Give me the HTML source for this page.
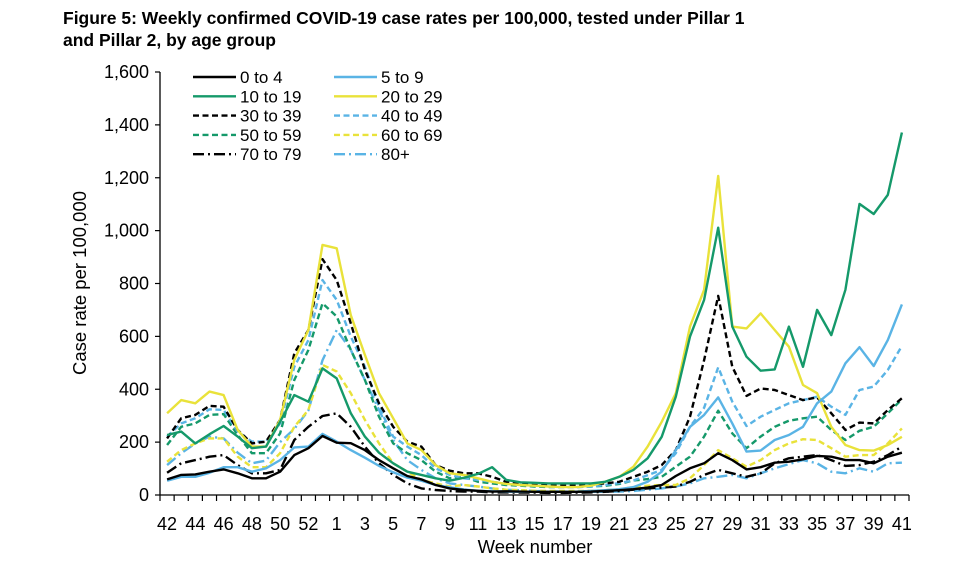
<!DOCTYPE html>
<html><head><meta charset="utf-8"><style>
body{margin:0;background:#fff;width:965px;height:559px;overflow:hidden;font-family:"Liberation Sans",Arial,sans-serif}
</style></head><body>
<svg id="c" width="965" height="559" font-family="Liberation Sans, Arial, sans-serif">
<text x="63" y="24" font-size="17.5" font-weight="bold">Figure 5: Weekly confirmed COVID-19 case rates per 100,000, tested under Pillar 1</text>
<text x="63" y="46" font-size="17.5" font-weight="bold">and Pillar 2, by age group</text>
<text transform="translate(86,283) rotate(-90)" text-anchor="middle" font-size="18.5">Case rate per 100,000</text>
<text x="535" y="553" text-anchor="middle" font-size="18.5">Week number</text>
<g id="axes"></g><g id="series"></g><g id="legend"></g>
</svg>
<script>
const weeks=[42,43,44,45,46,47,48,49,50,51,52,53,1,2,3,4,5,6,7,8,9,10,11,12,13,14,15,16,17,18,19,20,21,22,23,24,25,26,27,28,29,30,31,32,33,34,35,36,37,38,39,40,41];
const yTicks=[0,200,400,600,800,1000,1200,1400,1600];
const seriesNames=["0 to 4","5 to 9","10 to 19","20 to 29","30 to 39","40 to 49","50 to 59","60 to 69","70 to 79","80+"];
const s0_4=[59,76,78,88,97,82,63,63,88,151,177,223,198,196,170,132,101,72,59,38,25,19,16,13,14,13,12,12,12,12,13,15,18,22,28,38,72,101,120,158,132,97,105,122,126,135,148,145,132,132,120,145,160];
const s5_9=[54,69,69,84,105,105,88,101,132,180,183,231,202,170,141,110,86,66,54,38,29,21,16,14,13,12,12,12,12,13,15,18,22,30,50,88,170,258,303,369,271,164,168,208,227,258,347,391,498,559,488,586,721];
const s10_19=[227,240,195,230,261,221,177,183,277,378,353,479,441,309,221,160,120,88,76,63,54,65,80,105,57,48,46,44,44,44,44,50,69,95,139,220,372,599,738,1011,637,523,470,475,637,485,700,605,776,1101,1063,1135,1371];
const s20_29=[309,359,347,391,378,246,183,183,284,511,624,946,933,680,530,385,290,195,170,113,82,76,63,50,42,38,35,32,30,30,35,50,69,107,183,277,385,637,776,1207,637,630,687,624,561,416,385,258,189,170,168,189,220];
const s30_39=[214,290,303,337,334,246,195,202,284,536,624,892,813,649,473,347,258,202,183,113,92,82,82,69,50,45,42,40,38,38,40,44,50,69,88,113,170,296,510,753,485,375,403,397,378,359,369,309,246,274,271,321,366];
const s40_49=[221,271,290,324,322,240,202,202,271,485,586,813,738,599,485,334,221,183,151,101,76,63,57,50,42,38,35,32,30,30,32,38,45,55,75,95,158,258,330,483,353,261,296,322,347,359,372,334,303,397,410,473,564];
const s50_59=[189,258,271,303,306,227,158,158,233,435,549,725,675,549,435,296,195,158,132,88,63,69,50,44,38,35,32,30,30,30,32,35,42,55,60,69,107,145,221,319,233,177,221,258,281,290,296,246,208,243,258,309,362];
const s60_69=[126,170,195,214,214,145,105,105,158,258,322,492,467,385,284,195,120,88,57,44,32,38,32,25,20,18,16,15,15,15,16,18,22,30,35,38,38,63,113,170,139,107,132,170,195,211,208,177,145,151,151,195,252];
const s70_79=[84,120,132,145,151,113,82,82,95,208,258,299,309,258,183,120,76,44,25,19,15,13,13,10,10,9,9,8,8,9,10,12,15,20,25,28,32,50,76,95,82,69,82,120,139,145,151,132,110,113,126,151,183];
const s80=[113,158,195,221,214,160,120,130,200,250,320,510,624,549,435,322,208,132,95,63,44,38,32,25,20,18,15,14,13,12,12,12,13,15,20,25,32,44,63,69,76,63,82,101,117,132,120,88,82,101,88,120,122];

const NS="http://www.w3.org/2000/svg";
const X0=160,X1=909,Y0=495,Y1=72,YMAX=1600;
const bw=(X1-X0)/weeks.length;
const xPos=i=>X0+bw*(i+0.5);
const yPos=v=>Y0-(v/YMAX)*(Y0-Y1);
function mk(tag,attrs,parent){const e=document.createElementNS(NS,tag);for(const k in attrs)e.setAttribute(k,attrs[k]);parent.appendChild(e);return e;}
const axes=document.getElementById('axes');
let e=mk('line',{x1:X0,y1:Y1,x2:X0,y2:Y0,stroke:'#000','stroke-width':1.3},axes);


e=mk('line',{x1:X0,y1:Y0,x2:X1,y2:Y0,stroke:'#000','stroke-width':1.3},axes);


yTicks.forEach(t=>{
  const y=yPos(t);
  mk('line',{x1:X0-5,y1:y,x2:X0,y2:y,stroke:'#000','stroke-width':1.2},axes);
  const tx=mk('text',{x:X0-11,y:y+6,'text-anchor':'end','font-size':18},axes);
  tx.textContent=t.toLocaleString('en-US');
  
  
});
for(let i=0;i<=weeks.length;i++){const x=X0+bw*i;mk('line',{x1:x,y1:Y0,x2:x,y2:Y0+6,stroke:'#000','stroke-width':1.2},axes);}
weeks.forEach((w,i)=>{
  if(i%2!==0)return;
  const tx=mk('text',{x:xPos(i),y:Y0+35,'text-anchor':'middle','font-size':18},axes);
  tx.textContent=w;
  
  
});
const BLK='#000',BLU='#5AB4E5',GRN='#15996A',YEL='#E9E23A';
const D='6,3.5',DD='11,4,2,4';
const styles=[[BLK,''],[BLU,''],[GRN,''],[YEL,''],[BLK,D],[BLU,D],[GRN,D],[YEL,D],[BLK,DD],[BLU,DD]];
const data=[s0_4,s5_9,s10_19,s20_29,s30_39,s40_49,s50_59,s60_69,s70_79,s80];
const sg=document.getElementById('series');
for(let k=data.length-1;k>=0;k--){
  const d=data[k].map((v,i)=>(i?'L':'M')+xPos(i).toFixed(1)+' '+yPos(v).toFixed(1)).join(' ');
  const p=mk('path',{d:d,fill:'none',stroke:styles[k][0],'stroke-width':2.4,'stroke-dasharray':styles[k][1],'stroke-linejoin':'round'},sg);
  
  
}
const lg=document.getElementById('legend');
seriesNames.forEach((n,k)=>{
  const col=k%2,row=Math.floor(k/2);
  const lx=col?334:193,ty=77+row*19.3;
  const g=mk('g',{},lg);
  
  
  mk('line',{x1:lx,y1:ty,x2:lx+43,y2:ty,stroke:styles[k][0],'stroke-width':2.4,'stroke-dasharray':styles[k][1]},g);
  const t=mk('text',{x:lx+47,y:ty+6,'font-size':17},g);
  t.textContent=n;
});
</script>
</body></html>
